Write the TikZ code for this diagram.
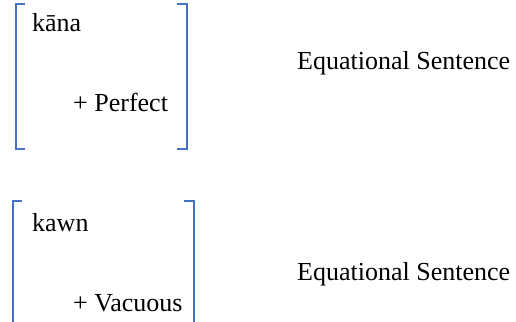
\documentclass[tikz,border=0pt]{standalone}
\usepackage{fontspec}
\setmainfont{Liberation Serif}
\usetikzlibrary{positioning}
\definecolor{myblue}{RGB}{68,114,196}

\begin{document}
\begin{tikzpicture}[x=1pt, y=-1pt,
            bracket/.style={myblue, line width=2pt},
            word/.style={inner sep=0pt, anchor=base west, font=\fontsize{26}{31}\selectfont}]
            \useasboundingbox (0,0) rectangle (516,321);

            \draw[bracket] (25,4) -- (15.5,4) -- (15.5,148.5) -- (25,148.5);
            \draw[bracket] (177,4) -- (186.5,4) -- (186.5,148.5) -- (177,148.5);
            \node[word] (kana) at (32,32) {kāna};
            \node[word] (perfect) at (73,111) {+ Perfect};
            \node[word] (eq1) at (297,70) {Equational Sentence};

            \draw[bracket] (22,201) -- (12.5,201) -- (12.5,330);
            \draw[bracket] (184,201) -- (193.5,201) -- (193.5,330);
            \node[word] (kawn) at (32,231) {kawn};
            \node[word] (vacuous) at (73,311) {+ Vacuous};
            \node[word] (eq2) at (297,280) {Equational Sentence};
        \end{tikzpicture}
\end{document}
